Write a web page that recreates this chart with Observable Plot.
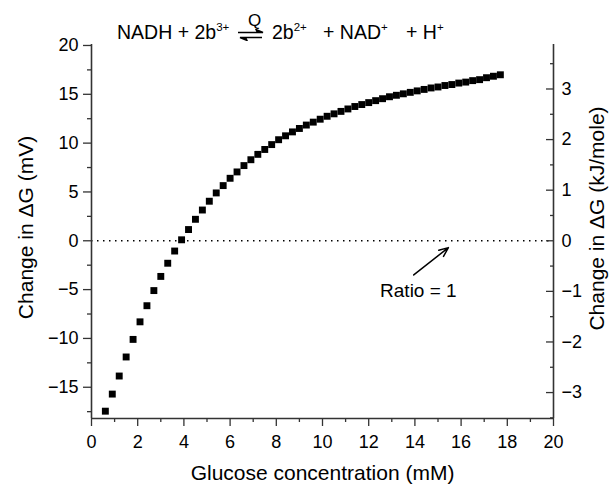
<!DOCTYPE html>
<html><head><meta charset="utf-8">
<script src="https://cdn.jsdelivr.net/npm/d3@7"></script>
<script src="https://cdn.jsdelivr.net/npm/@observablehq/plot@0.6"></script>
<style>
body{margin:0;background:#fff;}
#wrap{position:relative;width:612px;height:485px;font-family:"Liberation Sans",Arial,sans-serif;color:#000;}
.eq{position:absolute;top:23px;font-size:19.5px;line-height:1;white-space:nowrap;}
.eq sup{font-size:11.5px;vertical-align:baseline;position:relative;top:-8px;}
.q{position:absolute;top:12px;font-size:17px;line-height:1;}
.arr{position:absolute;left:236px;top:29px;}
</style>
</head><body>
<div id="wrap">
  <span class="eq" style="left:117px">NADH + 2b<sup>3+</sup></span>
  <span class="q" style="left:248px">Q</span>
  <svg class="arr" width="30" height="12" viewBox="0 0 30 12">
    <path d="M2,3.5H27M27,3.5L20,0.5L21.5,3.5Z" stroke="#000" stroke-width="1.4" fill="#000"/>
    <path d="M26,8.5H4M4,8.5L11,11.5L9.5,8.5Z" stroke="#000" stroke-width="1.4" fill="#000"/>
  </svg>
  <span class="eq" style="left:272px">2b<sup>2+</sup></span>
  <span class="eq" style="left:323px">+ NAD<sup>+</sup></span>
  <span class="eq" style="left:406px">+ H<sup>+</sup></span>
</div>
<script>
// Glucose concentration (mM)
const glucose = [0.6,0.9,1.2,1.5,1.8,2.1,2.4,2.7,3.0,3.3,3.6,3.9,4.2,4.5,4.8,5.1,5.4,5.7,6.0,6.3,
  6.6,6.9,7.2,7.5,7.8,8.1,8.4,8.7,9.0,9.3,9.6,9.9,10.2,10.5,10.8,11.1,11.4,11.7,12.0,12.3,
  12.6,12.9,13.2,13.5,13.8,14.1,14.4,14.7,15.0,15.3,15.6,15.9,16.2,16.5,16.8,17.1,17.4,17.7];
// Change in ΔG (mV)
const dG_mV = [-17.45,-15.7,-13.85,-11.9,-10.1,-8.3,-6.65,-5.1,-3.65,-2.3,-1.05,0.1,1.15,2.2,3.15,4.05,4.9,5.65,6.4,7.05,
  7.7,8.3,8.85,9.35,9.85,10.35,10.75,11.15,11.5,11.85,12.15,12.45,12.75,13.0,13.25,13.5,13.75,13.95,14.15,14.35,
  14.55,14.75,14.9,15.05,15.2,15.35,15.5,15.65,15.75,15.9,16.0,16.15,16.25,16.4,16.5,16.7,16.85,17.0];

const xMajor = [0,2,4,6,8,10,12,14,16,18,20];
const xMinor = [1,3,5,7,9,11,13,15,17,19];
const yMajor = [-15,-10,-5,0,5,10,15,20];
const yMinor = [-17.5,-12.5,-7.5,-2.5,2.5,7.5,12.5,17.5];
const kjMajor = [-3,-2,-1,0,1,2,3];
const kjMinor = [-3.5,-2.5,-1.5,-0.5,0.5,1.5,2.5,3.5];
const KJ_PER_MV = 0.193; // 2F conversion

const data = glucose.map((g, i) => ({g, v: dG_mV[i]}));
const fmtInt = d3.format("d");
const noLabel = () => "";
const axisStroke = "#333";

const chart = Plot.plot({
  width: 612, height: 485,
  marginLeft: 91, marginRight: 59, marginTop: 44, marginBottom: 67,
  style: {fontFamily: '"Liberation Sans", Arial, sans-serif', fontSize: "18px", color: "#000", background: "#fff", overflow: "visible"},
  x: {domain: [0, 20]},
  y: {domain: [-18.2, 20.1]},
  marks: [
    Plot.ruleY([0], {strokeDasharray: "1.5,4.5", strokeWidth: 1.5, stroke: "#000"}),
    // axis lines
    Plot.ruleX([0], {stroke: axisStroke, strokeWidth: 1.6}),
    Plot.ruleX([20], {stroke: axisStroke, strokeWidth: 1.6}),
    Plot.ruleY([-18.2], {stroke: axisStroke, strokeWidth: 1.6}),
    // bottom axis
    Plot.axisX({ticks: xMajor, tickSize: 8, tickPadding: 9, label: null, stroke: axisStroke, strokeWidth: 1.3}),
    Plot.axisX({ticks: xMinor, tickSize: 4, tickFormat: noLabel, label: null, stroke: axisStroke, strokeWidth: 1.3}),
    // left axis
    Plot.axisY({ticks: yMajor, tickSize: 8, tickPadding: 5, label: null, stroke: axisStroke, strokeWidth: 1.3}),
    Plot.axisY({ticks: yMinor, tickSize: 4, tickFormat: noLabel, label: null, stroke: axisStroke, strokeWidth: 1.3}),
    // right axis (kJ/mole), ticks inward
    Plot.axisY({anchor: "right", ticks: kjMajor.map(k => k / KJ_PER_MV), tickSize: -8, tickPadding: 16,
      tickFormat: d => fmtInt(Math.round(d * KJ_PER_MV)), label: null, stroke: axisStroke, strokeWidth: 1.3}),
    Plot.axisY({anchor: "right", ticks: kjMinor.map(k => k / KJ_PER_MV), tickSize: -4, tickFormat: noLabel, label: null, stroke: axisStroke, strokeWidth: 1.3}),
    // axis titles
    Plot.text(["Glucose concentration (mM)"], {frameAnchor: "bottom", lineAnchor: "bottom", textAnchor: "middle", dy: 61, fontSize: 21}),
    Plot.text(["Change in ΔG (mV)"], {frameAnchor: "left", textAnchor: "middle", lineAnchor: "middle", dx: -65, dy: -4, rotate: -90, fontSize: 21}),
    Plot.text(["Change in ΔG (kJ/mole)"], {frameAnchor: "right", textAnchor: "middle", lineAnchor: "middle", dx: 44, dy: -13, rotate: -90, fontSize: 21}),
    // annotation
    Plot.arrow([0], {x1: 13.95, y1: -3.5, x2: 15.45, y2: -0.7, stroke: "#000", strokeWidth: 1.5, headLength: 10, headAngle: 45}),
    Plot.text(["Ratio = 1"], {x: 14.15, y: -5.1, fontSize: 19}),
    // data
    Plot.dot(data, {x: "g", y: "v", symbol: "square", r: 3.9, fill: "#000", stroke: null})
  ]
});
document.getElementById("wrap").prepend(chart);
</script>
</body></html>
